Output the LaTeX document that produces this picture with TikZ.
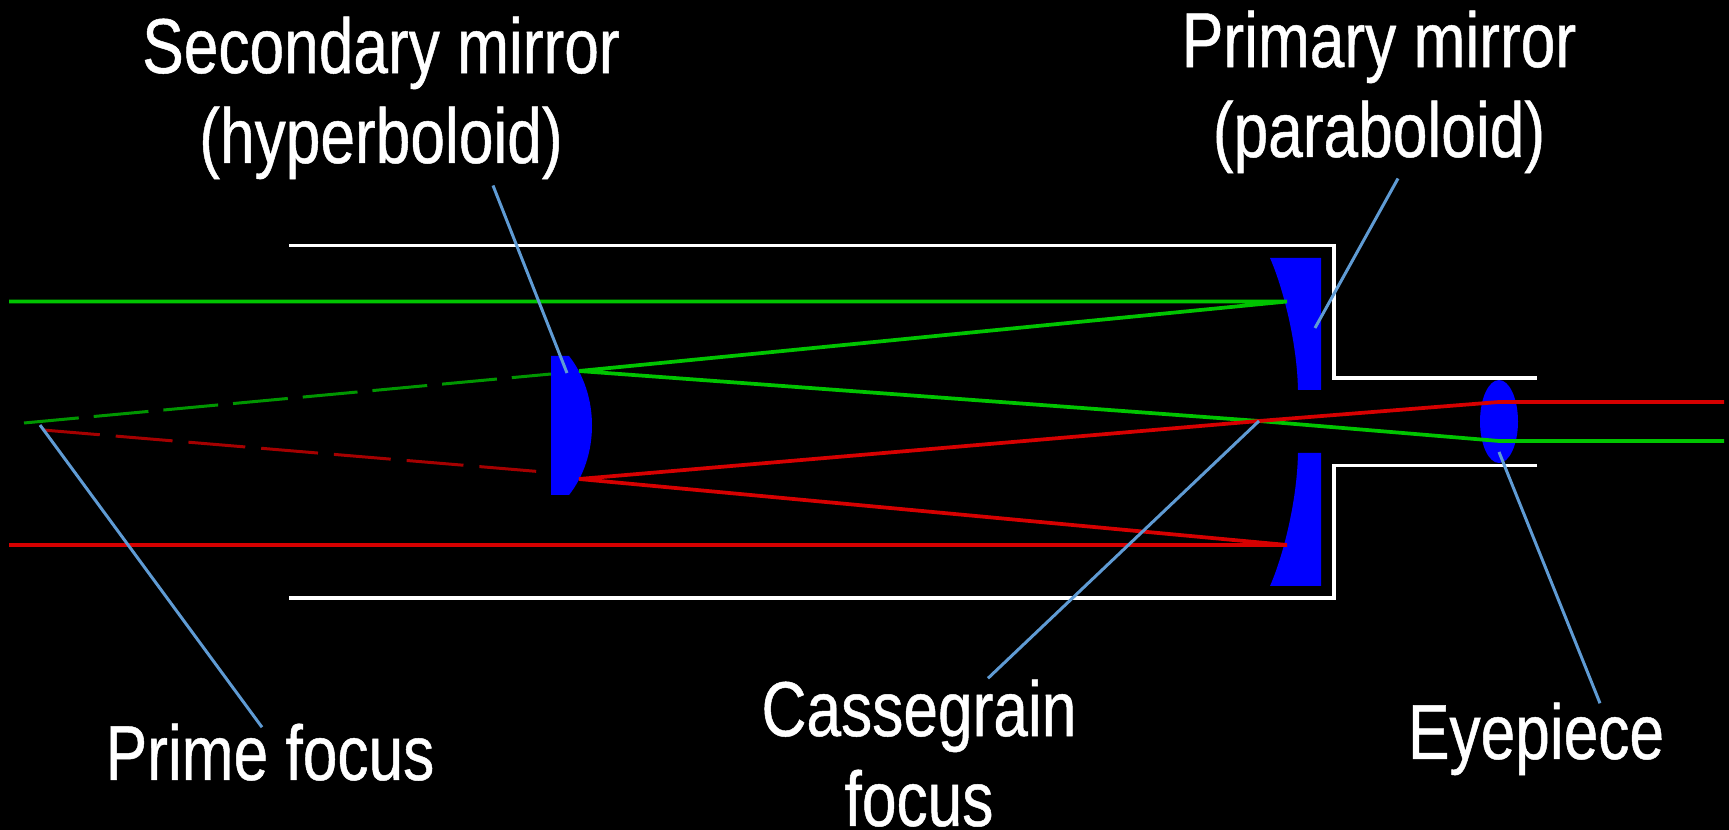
\documentclass[tikz,border=0pt]{standalone}
\usepackage{fontspec}
\setmainfont{Liberation Sans}
\newfontfamily\tallfont[FakeStretch=0.8,FakeBold=0.6]{Liberation Sans}
\usetikzlibrary{shapes.geometric}
\definecolor{raygreen}{RGB}{0,196,0}
\definecolor{rayred}{RGB}{214,0,0}
\definecolor{dimgreen}{RGB}{0,150,0}
\definecolor{dimred}{RGB}{165,0,0}
\definecolor{glassblue}{RGB}{0,0,255}
\definecolor{leaderblue}{RGB}{95,155,212}
\tikzset{
    caption/.style={text=white, inner sep=0pt, align=center, anchor=base, font=\tallfont\fontsize{44.3}{51.2}\selectfont},
    tube/.style={draw=white, line width=0.07cm},
    ray/.style={line width=0.075cm},
    virtualgreen/.style={draw=dimgreen, line width=0.06cm, dash pattern=on 1.1cm off 0.3cm},
    virtualred/.style={draw=dimred, line width=0.06cm, dash pattern=on 1.14cm off 0.32cm},
    leader/.style={draw=leaderblue, line width=0.06cm}
}
\begin{document}
\begin{tikzpicture}[x=0.02cm,y=-0.02cm]
        \useasboundingbox (0,0) rectangle (1729,830);
        \fill[black] (0,0) rectangle (1729,830);

        \coordinate (greenin) at (9,301.5);
        \coordinate (redin) at (9,545);
        \coordinate (primarytop) at (1287,301.5);
        \coordinate (primarybot) at (1287,545);
        \coordinate (secondarytop) at (579,371);
        \coordinate (secondarybot) at (579,479);
        \coordinate (cassegrain) at (1259,421);
        \coordinate (eyegreen) at (1499,441);
        \coordinate (eyered) at (1499,402);
        \coordinate (greenout) at (1724,441);
        \coordinate (redout) at (1724,402);
        \coordinate (primegreen) at (24,423);
        \coordinate (primered) at (43,430);
        \coordinate (backgreen) at (551,374);
        \coordinate (backred) at (544,472);
        \coordinate (primefocus) at (40,425);
        \coordinate (secondarytip) at (567,373);
        \coordinate (primarytip) at (1315,328);
        \coordinate (eyetip) at (1499,452);

        \fill[glassblue] (551,356) -- (569,356) .. controls (584,375) and (592,400) .. (592,425.5) .. controls (592,451) and (584,476) .. (569,495) -- (551,495) -- cycle;
        \fill[glassblue] (1270,258) .. controls (1282,285) and (1297,340) .. (1298,390) -- (1321,390) -- (1321,258) -- cycle;
        \fill[glassblue] (1270,586) .. controls (1282,559) and (1297,504) .. (1298,453) -- (1321,453) -- (1321,586) -- cycle;
        \node (eyepiece) [ellipse, fill=glassblue, inner sep=0pt, minimum width=0.76cm, minimum height=1.66cm] at (1499,421.5) {};

        \draw[tube] (289,245.5) -- (1334,245.5) -- (1334,378) -- (1537,378);
        \draw[tube] (1537,465.5) -- (1334,465.5) -- (1334,598) -- (289,598);

        \draw[ray, draw=raygreen] (greenin) -- (primarytop) -- (secondarytop) -- (cassegrain) -- (eyegreen) -- (greenout);
        \draw[ray, draw=rayred] (redin) -- (primarybot) -- (secondarybot) -- (cassegrain) -- (eyered) -- (redout);
        \draw[virtualgreen] (primegreen) -- (backgreen);
        \draw[virtualred] (primered) -- (backred);

        \node (secondarylabel) [caption] at (381,163) {Secondary mirror\\(hyperboloid)};
        \node (primarylabel) [caption] at (1379,157) {Primary mirror\\(paraboloid)};
        \node (primelabel) [caption] at (270,780) {Prime focus};
        \node (cassegrainlabel) [caption] at (919,826) {Cassegrain\\focus};
        \node (eyepiecelabel) [caption] at (1536,759) {Eyepiece};

        \draw[leader] ([shift={(112,6)}]secondarylabel.south) -- (secondarytip);
        \draw[leader] ([shift={(19,5)}]primarylabel.south) -- (primarytip);
        \draw[leader] ([shift={(-8,4)}]primelabel.north) -- (primefocus);
        \draw[leader] ([shift={(69,-1)}]cassegrainlabel.north) -- (cassegrain);
        \draw[leader] ([shift={(64,1)}]eyepiecelabel.north) -- (eyetip);
    \end{tikzpicture}
\end{document}
